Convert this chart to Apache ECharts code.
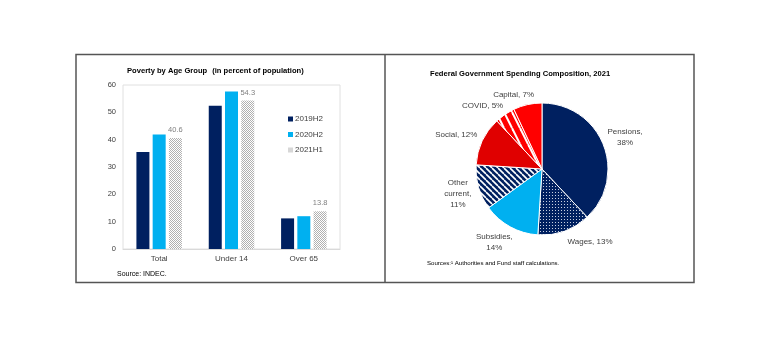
<!DOCTYPE html>
<html><head><meta charset="utf-8">
<script src="https://cdn.jsdelivr.net/npm/echarts@6/dist/echarts.min.js"></script>
<style>html,body{margin:0;padding:0;background:#fff}#c{width:768px;height:341px}</style>
</head><body><div id="c"></div>
<script>
// ---- data ----
const categories = ['Total', 'Under 14', 'Over 65'];
const s2019H2 = [35.5, 52.4, 11.2];
const s2020H2 = [41.9, 57.6, 12.0];
const s2021H1 = [40.6, 54.3, 13.8];
const yTicks = [0, 10, 20, 30, 40, 50, 60];
const pieNames = ['Pensions', 'Wages', 'Subsidies', 'Other current', 'Social', 'COVID', 'Capital'];
const pieValues = [38, 13, 14, 11, 12, 5, 7];
const pieLabels = ['Pensions,\n38%', 'Wages, 13%', 'Subsidies,\n14%', 'Other\ncurrent,\n11%', 'Social, 12%', 'COVID, 5%', 'Capital, 7%'];

// ---- label placement tweaks (style only, px) ----
const labelNudge = [[-1, 2], [20, -5], [-5, -4], [0, 0], [-3, 5], [-11, 8], [-11, 4]];

// ---- patterns ----
function pat(w, h, draw) {
  const c = document.createElement('canvas'); c.width = w; c.height = h;
  const g = c.getContext('2d'); draw(g, w, h);
  return { image: c, repeat: 'repeat' };
}
const NAVY = '#002060', LBLUE = '#00B0F0', RED = '#FF0000', DRED = '#E00000';
const greyHatch = pat(2, 2, g => { g.fillStyle = '#fff'; g.fillRect(0,0,2,2); g.fillStyle = '#b0b0b0'; g.fillRect(0,0,1,1); g.fillRect(1,1,1,1); });
const navyDots = pat(3, 3, g => { g.fillStyle = NAVY; g.fillRect(0,0,3,3); g.fillStyle = '#c8d0e0'; g.fillRect(0,0,1,1); });
const navyStripes = pat(6, 6, g => {
  g.fillStyle = NAVY; g.fillRect(0,0,6,6);
  g.strokeStyle = '#fff'; g.lineWidth = 1.6;
  for (let k = -6; k <= 12; k += 6) { g.beginPath(); g.moveTo(k, 0); g.lineTo(k + 6, 6); g.stroke(); }
});
const redStripes = pat(8, 16, g => {
  g.fillStyle = RED; g.fillRect(0,0,8,16);
  g.strokeStyle = '#fff'; g.lineWidth = 2;
  for (let k = -8; k <= 16; k += 8) { g.beginPath(); g.moveTo(k, 0); g.lineTo(k + 8, 16); g.stroke(); }
});
const pieColors = [NAVY, navyDots, LBLUE, navyStripes, DRED, redStripes, RED];

const FONT = 'Liberation Sans';
const TXT = '#404040';
const PIE_C = [542, 169], PIE_R = 66, PIE_START = 90;

// mid angles of slices (radians), from the data
const pieTotal = pieValues.reduce((a, b) => a + b, 0);
const midAngles = [];
{ let acc = 0; pieValues.forEach(v => { const mid = PIE_START - (acc + v / 2) / pieTotal * 360; midAngles.push(mid * Math.PI / 180); acc += v; }); }

const chart = echarts.init(document.getElementById('c'), null, { renderer: 'canvas' });
chart.setOption({
  animation: false,
  textStyle: { fontFamily: FONT },
  title: [
    { text: '{b|Poverty by Age Group} {n|(in percent of population)}', left: 127, top: 62, padding: 0,
      textStyle: { rich: { b: { fontWeight: 'bold', fontSize: 7.6, color: '#000', fontFamily: FONT }, n: { fontSize: 7.6, color: '#000', fontFamily: FONT } } } },
    { text: 'Federal Government Spending Composition, 2021', left: 430, top: 70, padding: 0,
      textStyle: { fontWeight: 'bold', fontSize: 7.6, color: '#000', fontFamily: FONT } },
    { text: 'Source: INDEC.', left: 117, top: 271, padding: 0, textStyle: { fontSize: 7, fontWeight: 'normal', color: '#000', fontFamily: FONT } },
    { text: 'Sources:¹ Authorities and Fund staff calculations.', left: 427, top: 260, padding: 0, textStyle: { fontSize: 6.1, fontWeight: 'normal', color: '#000', fontFamily: FONT } }
  ],
  legend: {
    data: ['2019H2', '2020H2', '2021H1'], orient: 'vertical', left: 288, top: 114, padding: 0,
    itemWidth: 5, itemHeight: 5, itemGap: 5.5, icon: 'rect',
    textStyle: { fontSize: 8, color: TXT, padding: [0, 0, 0, -3], lineHeight: 10 }
  },
  grid: { left: 123, right: 428, top: 85, bottom: 92, show: true, borderColor: '#e0e0e0', borderWidth: 1 },
  xAxis: {
    type: 'category', data: categories,
    axisTick: { show: false }, axisLine: { lineStyle: { color: '#d9d9d9' } },
    axisLabel: { color: TXT, fontSize: 8, margin: 6 }
  },
  yAxis: {
    type: 'value', min: yTicks[0], max: yTicks[yTicks.length - 1], interval: 10,
    splitLine: { show: false }, axisLine: { show: false }, axisTick: { show: false },
    axisLabel: { color: TXT, fontSize: 7.5, margin: 7 }
  },
  series: [
    { name: '2019H2', type: 'bar', data: s2019H2, barWidth: 13, barGap: '25%', itemStyle: { color: NAVY } },
    { name: '2020H2', type: 'bar', data: s2020H2, barWidth: 13, itemStyle: { color: LBLUE } },
    { name: '2021H1', type: 'bar', data: s2021H1, barWidth: 13, itemStyle: { color: greyHatch },
      label: { show: true, position: 'top', color: '#7f7f7f', fontSize: 7.5, distance: 4 } },
    { type: 'pie', center: PIE_C, radius: [0, PIE_R], startAngle: PIE_START, clockwise: true,
      avoidLabelOverlap: false,
      data: pieNames.map((n, i) => ({ name: n, value: pieValues[i], itemStyle: { color: pieColors[i] } })),
      itemStyle: { borderColor: '#fff', borderWidth: 1 },
      label: { position: 'outside', color: TXT, fontSize: 8, lineHeight: 11, align: 'center',
        formatter: p => pieLabels[p.dataIndex] },
      labelLine: { show: false },
      labelLayout: p => {
        const a = midAngles[p.dataIndex];
        const ux = Math.cos(a), uy = -Math.sin(a);
        const w = p.labelRect.width, h = p.labelRect.height;
        const d = PIE_R + 4 + Math.abs(ux) * w / 2 + Math.abs(uy) * h / 2;
        const n = labelNudge[p.dataIndex];
        return { x: PIE_C[0] + ux * d + n[0], y: PIE_C[1] + uy * d + n[1], align: 'center', verticalAlign: 'middle' };
      },
      emphasis: { disabled: true }
    }
  ],
  graphic: [
    { type: 'rect', shape: { x: 76, y: 54.5, width: 618, height: 228 }, style: { fill: 'none', stroke: '#555', lineWidth: 1.5 }, silent: true },
    { type: 'line', shape: { x1: 385, y1: 54.5, x2: 385, y2: 282.5 }, style: { stroke: '#555', lineWidth: 1.5 }, silent: true }
  ]
});
</script></body></html>
